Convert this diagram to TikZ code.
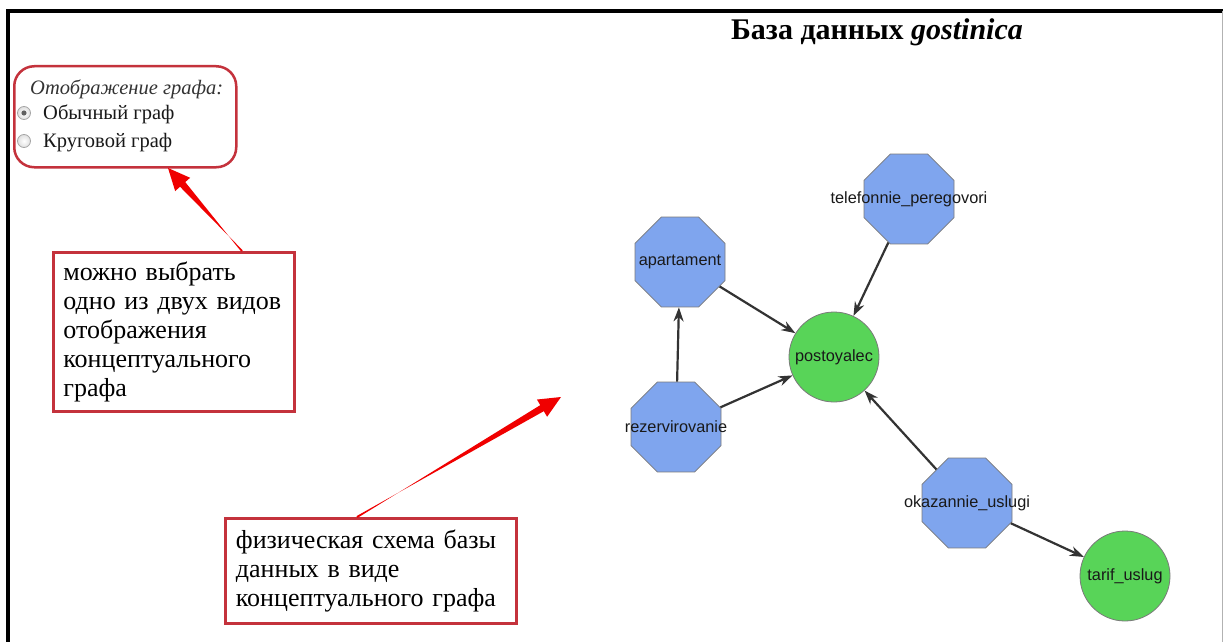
\documentclass[tikz,border=0pt]{standalone}
\usepackage{fontspec}
\setmainfont{Liberation Serif}
\newfontfamily\labelfont{Liberation Sans}
\usetikzlibrary{shapes.geometric,arrows.meta,calc}
\definecolor{octfill}{HTML}{7FA5EE}
\definecolor{circfill}{HTML}{58D458}
\definecolor{annred}{HTML}{C4323C}
\definecolor{arrred}{HTML}{F00000}
\definecolor{edgegray}{HTML}{333333}
\definecolor{shapeline}{HTML}{7A7A7A}
\newcommand\taperarrow[2]{%
  \coordinate (hb) at ($(#2)!22pt!(#1)$);
  \fill[arrred] ($(#1)!1pt!90:(#2)$) -- ($(hb)!3.5pt!-90:(#2)$) -- ($(hb)!10pt!-90:(#2)$) -- (#2)
     -- ($(hb)!10pt!90:(#2)$) -- ($(hb)!3.5pt!90:(#2)$) -- ($(#1)!1pt!-90:(#2)$) -- cycle;
}
\begin{document}
\begin{tikzpicture}[x=1pt,y=-1pt,
  oct/.style={regular polygon,regular polygon sides=8,minimum size=97.4pt,inner sep=0pt,
    fill=octfill,draw=shapeline,line width=0.8pt},
  ent/.style={circle,minimum size=90pt,inner sep=0pt,fill=circfill,draw=shapeline,line width=0.8pt},
  lbl/.style={font=\labelfont\fontsize{16.3}{19}\selectfont,text=black!90,inner sep=0pt},
  rel/.style={draw=edgegray,line width=2.2pt,-{Stealth[length=14pt,width=10pt]}},
  annbox/.style={draw=annred,line width=2.8pt,fill=white,align=left,anchor=north west,
    font=\fontsize{26}{29}\selectfont,inner ysep=4pt},
  radio/.style={circle,minimum size=13pt,inner sep=0pt,draw=gray!70,inner color=white,outer color=gray!25,line width=0.8pt},
  formtext/.style={anchor=base west,inner sep=0pt,font=\fontsize{20.5}{24}\selectfont,text=black!90},
]
\useasboundingbox (0,0) rectangle (1223,642);
\fill[white] (0,0) rectangle (1223,642);
% frame
\draw[line width=3.5pt,black] (8,642) -- (8,11) -- (1223,11);
\draw[line width=0.8pt,gray!60] (1222,11) -- (1222,642);

% title
\node[anchor=base,inner sep=0pt,font=\bfseries\fontsize{30}{34}\selectfont] (title) at (877,40) {База данных \textit{gostinica}};

% option panel
\node[draw=annred,line width=2.5pt,rounded corners=20pt,anchor=north west,minimum width=222pt,minimum height=101pt,inner sep=0pt] (panel) at (13,65) {};
\node[formtext,font=\itshape\fontsize{20.5}{24}\selectfont,text=black!80] (ptitle) at (30,95) {Отображение графа:};
\node[radio] (r1) at (24,113) {};
\fill[gray!75!black] (r1.center) circle (2.6pt);
\node[radio] (r2) at (24,141) {};
\node[formtext] (o1) at (43,119) {Обычный граф};
\node[formtext] (o2) at (43,147) {Круговой граф};

% annotation boxes
\node[annbox,minimum width=241pt,minimum height=159pt,text width=221pt,inner xsep=9pt] (box1) at (52,251)
 {можно выбрать\\одно из двух видов\\отображения\\концептуального\\графа};
\node[annbox,minimum width=291pt,minimum height=105pt,text width=270pt,inner xsep=10pt] (box2) at (224,517)
 {физическая схема базы\\данных в виде\\концептуального графа};

% red pointer arrows
\coordinate (t1) at ($(box1.north west)+(190,0)$);
\coordinate (tip1) at (168,168);
\taperarrow{t1}{tip1}
\coordinate (t2) at ($(box2.north west)+(133,0)$);
\coordinate (tip2) at (561,397);
\taperarrow{t2}{tip2}

% graph nodes
\node[oct] (apartament) at (680,262) {};
\node[oct] (telefon) at (909,199) {};
\node[oct] (rezerv) at (676,427) {};
\node[oct] (okaz) at (967,503) {};
\node[ent] (postoyalec) at (834,357) {};
\node[ent] (tarif) at (1125,576) {};

% edges
\draw[rel] (apartament) -- (postoyalec);
\draw[rel] (telefon) -- (postoyalec);
\draw[rel] (rezerv) -- (apartament);
\draw[rel] (rezerv) -- (postoyalec);
\draw[rel] (okaz) -- (postoyalec);
\draw[rel] (okaz) -- (tarif);

% labels
\node[lbl] (l1) at (apartament.center) {apartament};
\node[lbl] (l2) at (telefon.center) {telefonnie\_peregovori};
\node[lbl] (l3) at (rezerv.center) {rezervirovanie};
\node[lbl] (l4) at (okaz.center) {okazannie\_uslugi};
\node[lbl] (l5) at (postoyalec.center) {postoyalec};
\node[lbl] (l6) at (tarif.center) {tarif\_uslug};
\end{tikzpicture}
\end{document}
